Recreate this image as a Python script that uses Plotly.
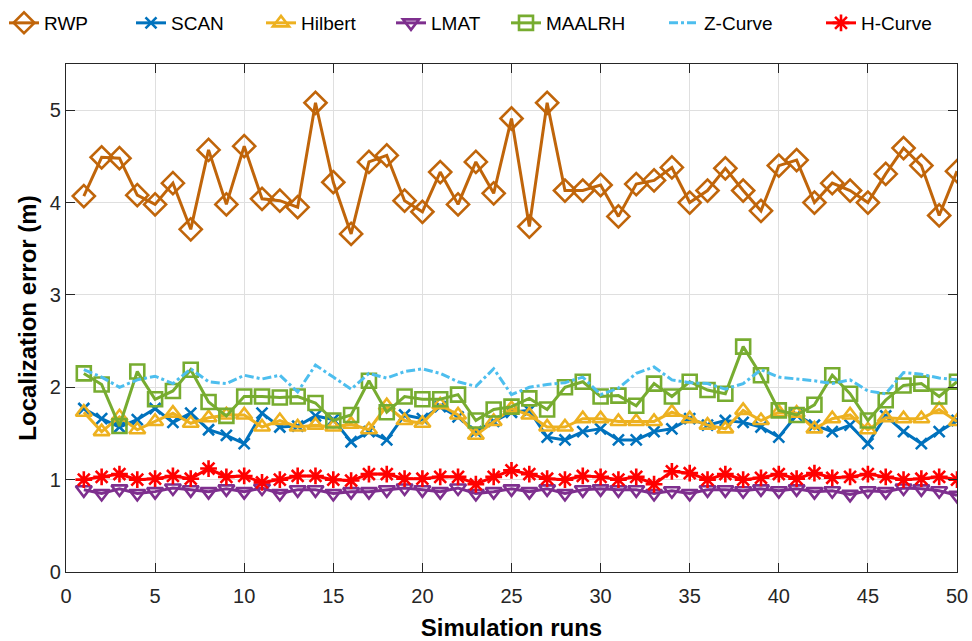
import plotly.graph_objects as go

runs = list(range(1, 51))

rwp = [4.07, 4.49, 4.48, 4.08, 3.98, 4.21, 3.71, 4.57, 3.98, 4.61,
       4.04, 4.02, 3.95, 5.08, 4.22, 3.66, 4.44, 4.51, 4.02, 3.90,
       4.33, 3.98, 4.44, 4.10, 4.91, 3.74, 5.08, 4.13, 4.13, 4.19,
       3.85, 4.20, 4.24, 4.38, 4.00, 4.13, 4.37, 4.13, 3.91, 4.40,
       4.46, 4.00, 4.21, 4.13, 4.00, 4.31, 4.59, 4.40, 3.86, 4.34]

scan = [1.77, 1.66, 1.57, 1.65, 1.77, 1.62, 1.72, 1.54, 1.48, 1.39,
        1.72, 1.57, 1.58, 1.69, 1.65, 1.41, 1.52, 1.43, 1.70, 1.66,
        1.79, 1.68, 1.52, 1.63, 1.73, 1.75, 1.46, 1.43, 1.52, 1.55,
        1.43, 1.43, 1.52, 1.55, 1.66, 1.59, 1.64, 1.62, 1.57, 1.46,
        1.70, 1.59, 1.52, 1.59, 1.39, 1.69, 1.52, 1.39, 1.52, 1.64]

hilbert = [1.73, 1.52, 1.68, 1.54, 1.63, 1.72, 1.61, 1.67, 1.70, 1.70,
           1.57, 1.64, 1.57, 1.59, 1.57, 1.60, 1.54, 1.80, 1.64, 1.61,
           1.81, 1.70, 1.48, 1.63, 1.77, 1.70, 1.57, 1.57, 1.66, 1.66,
           1.63, 1.63, 1.63, 1.73, 1.66, 1.59, 1.55, 1.75, 1.64, 1.73,
           1.72, 1.55, 1.66, 1.70, 1.54, 1.67, 1.66, 1.66, 1.76, 1.63]

lmat = [0.89, 0.85, 0.90, 0.85, 0.87, 0.91, 0.89, 0.87, 0.90, 0.87,
        0.91, 0.85, 0.89, 0.89, 0.85, 0.87, 0.87, 0.89, 0.91, 0.89,
        0.87, 0.91, 0.85, 0.87, 0.90, 0.87, 0.90, 0.85, 0.89, 0.90,
        0.89, 0.89, 0.85, 0.88, 0.85, 0.89, 0.89, 0.88, 0.90, 0.88,
        0.90, 0.87, 0.88, 0.84, 0.88, 0.87, 0.91, 0.90, 0.88, 0.83]

maalrh = [2.15, 2.03, 1.58, 2.17, 1.87, 1.96, 2.19, 1.84, 1.69, 1.90,
          1.90, 1.89, 1.90, 1.83, 1.64, 1.70, 2.07, 1.73, 1.90, 1.87,
          1.87, 1.92, 1.64, 1.76, 1.79, 1.88, 1.76, 2.00, 2.06, 1.90,
          1.91, 1.80, 2.04, 1.90, 2.06, 1.97, 1.93, 2.44, 2.13, 1.75,
          1.70, 1.81, 2.13, 1.93, 1.64, 1.86, 2.02, 2.04, 1.90, 2.06]

zcurve = [2.19, 2.11, 2.00, 2.08, 2.12, 2.04, 2.20, 2.06, 2.04, 2.13,
          2.09, 2.13, 1.95, 2.24, 2.11, 1.98, 2.15, 2.10, 2.17, 2.20,
          2.15, 2.06, 2.01, 2.20, 1.92, 2.00, 2.03, 2.05, 2.11, 1.92,
          1.99, 2.15, 2.22, 2.08, 2.05, 2.04, 1.98, 2.04, 2.19, 2.11,
          2.09, 2.07, 2.04, 2.08, 1.96, 1.93, 2.16, 2.14, 2.10, 2.08]

hcurve = [1.00, 1.03, 1.06, 1.00, 1.01, 1.04, 1.01, 1.12, 1.03, 1.04,
          0.97, 1.00, 1.04, 1.04, 1.00, 0.99, 1.06, 1.06, 1.01, 1.01,
          1.03, 1.03, 0.95, 1.03, 1.10, 1.06, 1.01, 1.00, 1.04, 1.03,
          1.00, 1.03, 0.95, 1.09, 1.07, 1.00, 1.06, 1.00, 1.02, 1.06,
          1.01, 1.07, 1.02, 1.03, 1.06, 1.03, 1.00, 1.01, 1.03, 1.00]

x_ticks = [0, 5, 10, 15, 20, 25, 30, 35, 40, 45, 50]
y_ticks = [0, 1, 2, 3, 4, 5]

# name, values, colour, marker symbol, marker size, line dash, legend left edge (px)
series = [
    ("RWP", rwp, "#C0650A", "diamond-open", 17, "solid", 4),
    ("SCAN", scan, "#0072BD", "x-thin-open", 11, "solid", 131),
    ("Hilbert", hilbert, "#EDB120", "triangle-up-open", 14, "solid", 261),
    ("LMAT", lmat, "#7E2F8E", "triangle-down-open", 14, "solid", 391),
    ("MAALRH", maalrh, "#77AC30", "square-open", 14, "solid", 506),
    ("Z-Curve", zcurve, "#4DBEEE", None, 0, "dashdot", 664),
    ("H-Curve", hcurve, "#FF0000", "asterisk-open", 14, "solid", 821),
]

W, H = 972, 641
FONT = "Liberation Sans, Arial, sans-serif"

fig = go.Figure()
layout_legends = {}
for i, (name, vals, color, symbol, size, dash, lx) in enumerate(series):
    legend_id = "legend" if i == 0 else f"legend{i + 1}"
    common = dict(x=runs, y=vals, name=name, legend=legend_id,
                  line=dict(color=color, width=3, dash=dash))
    if symbol is None:
        fig.add_trace(go.Scatter(mode="lines", **common))
    else:
        fig.add_trace(go.Scatter(
            mode="lines+markers",
            marker=dict(symbol=symbol, size=size, color=color,
                        line=dict(color=color, width=2.6)),
            **common,
        ))
    layout_legends[legend_id] = dict(
        orientation="h",
        xref="container", yref="container",
        x=lx / W, xanchor="left", y=1 - 4 / H, yanchor="top",
        font=dict(family=FONT, size=19, color="#000000"),
        bgcolor="rgba(255,255,255,0)", itemwidth=30,
    )

axis_common = dict(
    showline=True, linecolor="#262626", linewidth=1.3, mirror="allticks",
    ticks="inside", ticklen=9, tickwidth=1.3, tickcolor="#262626",
    showgrid=True, gridcolor="#DFDFDF", gridwidth=1,
    zeroline=False, automargin=False,
    tickfont=dict(family=FONT, size=20, color="#262626"),
)

fig.update_xaxes(
    range=[0, 50], tickvals=x_ticks, ticktext=[str(t) for t in x_ticks],
    ticklabelstandoff=6,
    title=dict(text="<b>Simulation runs</b>", standoff=18,
               font=dict(family=FONT, size=24, color="#000000")),
    **axis_common,
)
fig.update_yaxes(
    range=[0, 5.5], tickvals=y_ticks, ticktext=[str(t) for t in y_ticks],
    title=dict(text="<b>Localization error (m)</b>", standoff=6,
               font=dict(family=FONT, size=24, color="#000000")),
    **axis_common,
)

fig.update_layout(
    width=W, height=H,
    margin=dict(l=66, r=15, t=64, b=69, autoexpand=False),
    paper_bgcolor="white", plot_bgcolor="white",
    showlegend=True,
    **layout_legends,
)

fig.write_html("out.html")
